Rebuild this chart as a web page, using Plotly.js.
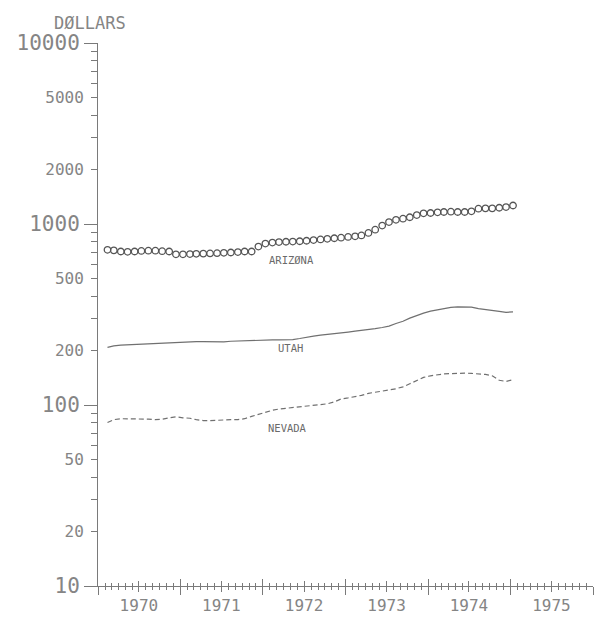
<!DOCTYPE html>
<html>
<head>
<meta charset="utf-8">
<script src="https://cdn.plot.ly/plotly-3.0.1.min.js"></script>
<style>
  html, body { margin: 0; padding: 0; background: #ffffff; }
  #chart { width: 595px; height: 618px; }
</style>
</head>
<body>
<div id="chart"></div>
<script>
// Monthly observations, Feb 1970 – Jan 1975
const months = [
  "1970-02-12","1970-03-12","1970-04-12","1970-05-12","1970-06-12","1970-07-12","1970-08-12","1970-09-12","1970-10-12","1970-11-12","1970-12-12",
  "1971-01-12","1971-02-12","1971-03-12","1971-04-12","1971-05-12","1971-06-12","1971-07-12","1971-08-12","1971-09-12","1971-10-12","1971-11-12","1971-12-12",
  "1972-01-12","1972-02-12","1972-03-12","1972-04-12","1972-05-12","1972-06-12","1972-07-12","1972-08-12","1972-09-12","1972-10-12","1972-11-12","1972-12-12",
  "1973-01-12","1973-02-12","1973-03-12","1973-04-12","1973-05-12","1973-06-12","1973-07-12","1973-08-12","1973-09-12","1973-10-12","1973-11-12","1973-12-12",
  "1974-01-12","1974-02-12","1974-03-12","1974-04-12","1974-05-12","1974-06-12","1974-07-12","1974-08-12","1974-09-12","1974-10-12","1974-11-12","1974-12-12",
  "1975-01-12"
];

const arizona = [
  720, 715, 705, 702, 705, 710, 712, 712, 708, 705,
  680, 680, 682, 684, 686, 688, 690, 693, 696, 700, 705, 705,
  750, 780, 790, 795, 798, 800, 803, 808, 815, 822, 828, 834, 840, 848,
  855, 865, 893, 930, 980, 1025, 1055, 1070, 1090, 1120, 1145, 1150,
  1160, 1165, 1170, 1165, 1165, 1175, 1215, 1220, 1220, 1230, 1240, 1265
];

const utah = [
  208, 212, 214, 215, 216, 217, 218, 219, 220, 220,
  221, 222, 223, 224, 224, 223, 222, 223, 225, 226, 227, 228,
  229, 229, 229, 229, 229, 230, 233, 237, 240, 243, 245, 248, 250, 253,
  256, 258, 261, 264, 268, 273, 282, 290, 302, 313, 322, 330,
  336, 341, 346, 348, 349, 347, 341, 336, 333, 329, 325, 327
];

const nevada = [
  80, 83, 84, 84, 84, 83.5, 83.5, 83, 83.5, 85,
  86, 85, 84.5, 83, 82, 82, 82.5, 82.5, 83, 83, 84, 86.5,
  89, 91.5, 93.5, 95, 96, 97, 97.5, 98.5, 99.5, 100.5, 101.5, 104, 108, 109.5,
  111, 113, 116, 118, 119.5, 121, 123, 126, 131, 137, 142, 145,
  147.5, 148.5, 149, 150, 150, 149.5, 149, 147.5, 145, 137, 135, 138
];

// Axis ticks and labels
const yearStarts = ["1970-01-01","1971-01-01","1972-01-01","1973-01-01","1974-01-01","1975-01-01","1976-01-01"];
const midYears = ["1970-07-01","1971-07-01","1972-07-01","1973-07-01","1974-07-01","1975-07-01"];
const yearLabels = ["1970","1971","1972","1973","1974","1975"];
const yDecades = [10, 100, 1000, 10000];
const yDecadeLabels = ["10","100","1000","10000"];
const yMid = [20, 50, 200, 500, 2000, 5000];
const yMidLabels = ["20","50","200","500","2000","5000"];
const yMinor = [30,40,60,70,80,90,300,400,600,700,800,900,3000,4000,6000,7000,8000,9000];
const seriesNames = ["ARIZØNA", "UTAH", "NEVADA"];

const FONT = "DejaVu Sans Mono, monospace";
const TXT = "#858585";
const AX = "#7a7a7a";
const xRange = ["1970-01-01", "1976-01-01"];

const traces = [
  { x: months, y: arizona, xaxis: "x", yaxis: "y", type: "scatter", mode: "markers",
    marker: { symbol: "circle-open", size: 6.5, color: "#555555", line: { width: 1.3, color: "#555555" } },
    name: seriesNames[0], showlegend: false, hoverinfo: "skip" },
  { x: months, y: utah, xaxis: "x2", yaxis: "y", type: "scatter", mode: "lines",
    line: { color: "#707070", width: 1.2 },
    name: seriesNames[1], showlegend: false, hoverinfo: "skip" },
  { x: months, y: nevada, xaxis: "x3", yaxis: "y2", type: "scatter", mode: "lines",
    line: { color: "#707070", width: 1.2, dash: "5px,3px" },
    name: seriesNames[2], showlegend: false, hoverinfo: "skip" }
];

const baseX = {
  type: "date", range: xRange, showgrid: false, zeroline: false,
  tickcolor: AX, tickwidth: 1, fixedrange: true
};

const layout = {
  width: 595, height: 618,
  margin: { l: 97.5, r: 2, t: 43, b: 32 },
  paper_bgcolor: "#ffffff", plot_bgcolor: "#ffffff",
  showlegend: false,
  xaxis: Object.assign({}, baseX, {
    showline: true, linecolor: AX, linewidth: 1,
    tickmode: "array", tickvals: midYears, ticktext: yearLabels,
    ticks: "outside", ticklen: 5,
    ticklabelstandoff: 0,
    tickfont: { family: FONT, size: 16, color: TXT },
    minor: { tickmode: "linear", tick0: "1970-01-01", dtick: "M1", ticks: "outside", ticklen: 3, tickcolor: AX, tickwidth: 1 }
  }),
  xaxis2: Object.assign({}, baseX, {
    overlaying: "x", anchor: "y", side: "bottom", showline: false,
    tickmode: "array", tickvals: yearStarts, ticks: "inside", ticklen: 7.5,
    showticklabels: false,
    minor: { tickmode: "linear", tick0: "1970-01-01", dtick: "M1", ticks: "inside", ticklen: 3, tickcolor: AX, tickwidth: 1 }
  }),
  xaxis3: Object.assign({}, baseX, {
    overlaying: "x", anchor: "y", side: "bottom", showline: false,
    tickmode: "array", tickvals: yearStarts, ticks: "outside", ticklen: 7.5,
    showticklabels: false,
    minor: { tickmode: "array", tickvals: midYears, ticks: "inside", ticklen: 5, tickcolor: AX, tickwidth: 1 }
  }),
  yaxis: {
    type: "log", range: [1, 4], showgrid: false, zeroline: false, fixedrange: true,
    showline: true, linecolor: AX, linewidth: 1,
    tickmode: "array", tickvals: yDecades, ticktext: yDecadeLabels,
    ticks: "outside", ticklen: 13, tickcolor: AX, tickwidth: 1,
    tickfont: { family: FONT, size: 21, color: TXT },
    minor: { tickmode: "array", tickvals: yMinor, ticks: "outside", ticklen: 6, tickcolor: AX, tickwidth: 1 }
  },
  yaxis2: {
    type: "log", range: [1, 4], overlaying: "y", side: "left", anchor: "x",
    showgrid: false, zeroline: false, showline: false, fixedrange: true,
    tickmode: "array", tickvals: yMid, ticktext: yMidLabels,
    ticks: "outside", ticklen: 6, tickcolor: AX, tickwidth: 1,
    ticklabelstandoff: 4,
    tickfont: { family: FONT, size: 16, color: TXT }
  },
  annotations: [
    { text: "DØLLARS", xref: "paper", yref: "paper", x: -0.016, y: 1.036,
      xanchor: "center", yanchor: "middle", showarrow: false,
      font: { family: FONT, size: 17, color: TXT } },
    { text: seriesNames[0], xref: "paper", yref: "paper", x: 0.3905, y: 0.600,
      xanchor: "center", yanchor: "middle", showarrow: false,
      font: { family: FONT, size: 10.5, color: "#6a6a6a" } },
    { text: seriesNames[1], xref: "paper", yref: "paper", x: 0.3885, y: 0.438,
      xanchor: "center", yanchor: "middle", showarrow: false,
      font: { family: FONT, size: 10.5, color: "#6a6a6a" } },
    { text: seriesNames[2], xref: "paper", yref: "paper", x: 0.3824, y: 0.291,
      xanchor: "center", yanchor: "middle", showarrow: false,
      font: { family: FONT, size: 10.5, color: "#6a6a6a" } }
  ]
};

Plotly.newPlot("chart", traces, layout, { displayModeBar: false, staticPlot: true });
</script>
</body>
</html>
